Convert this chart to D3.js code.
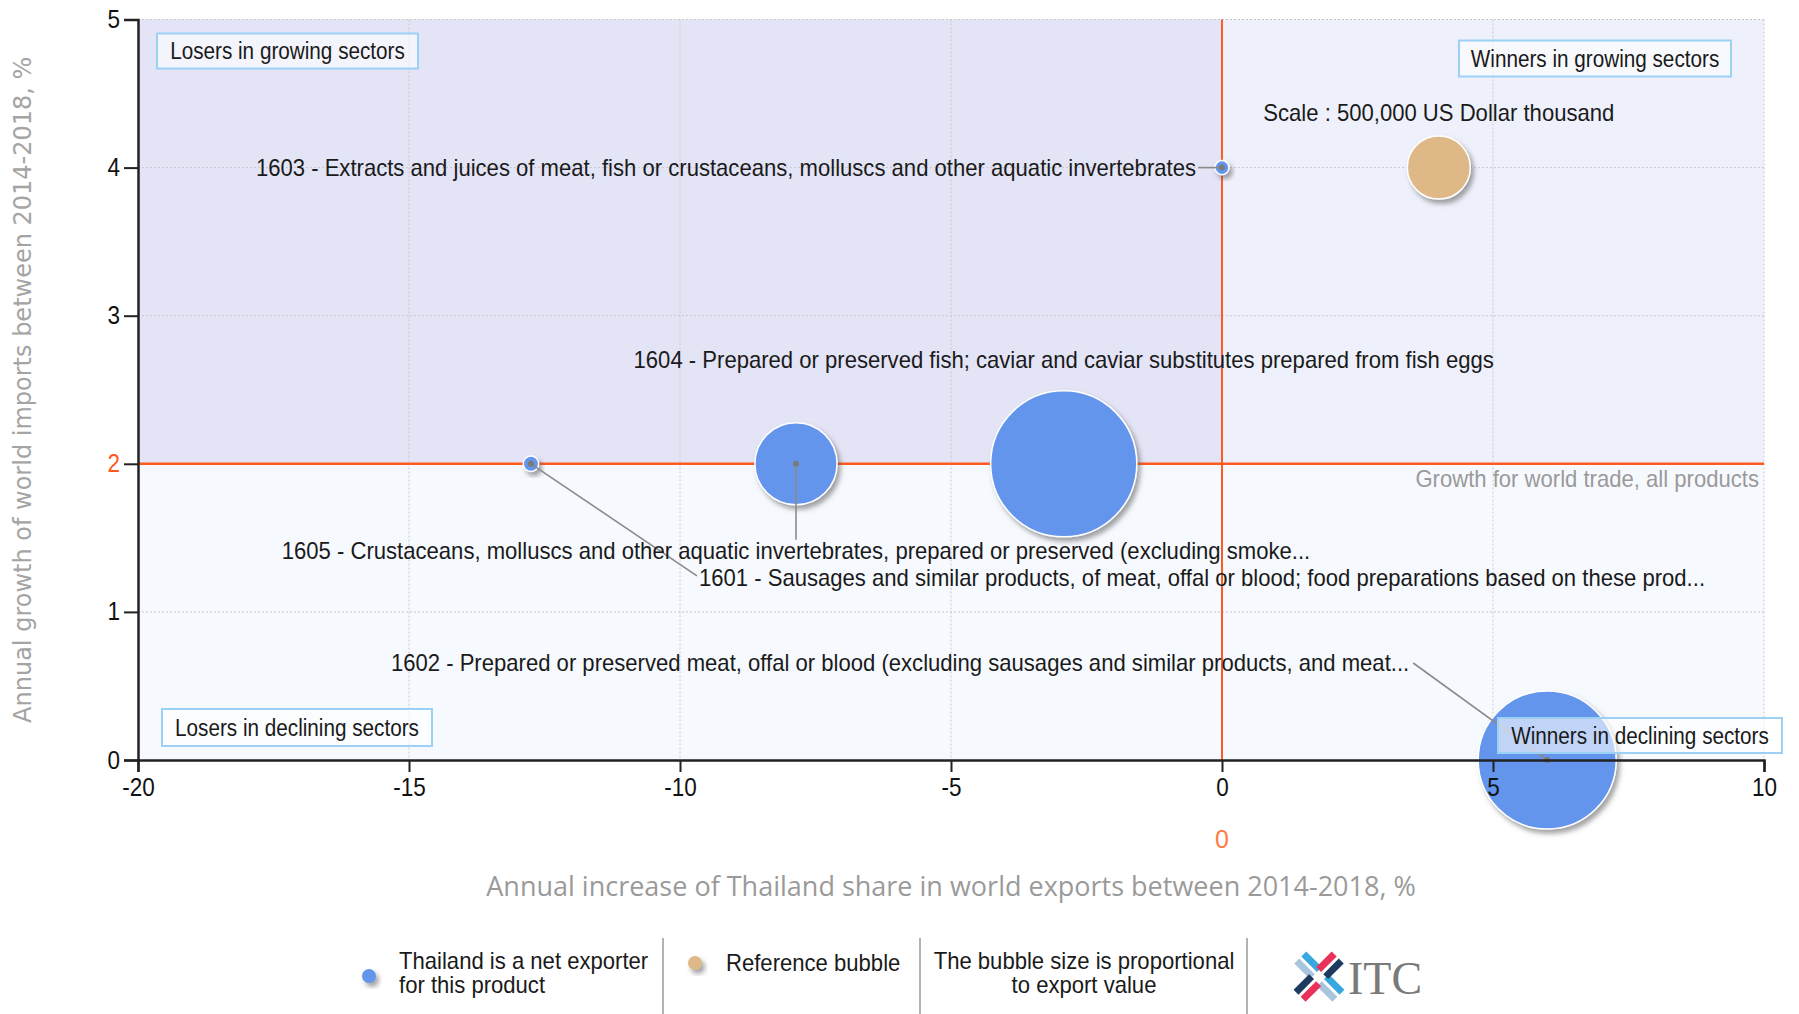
<!DOCTYPE html>
<html lang="en">
<head>
  <meta charset="UTF-8">
  <title>Thailand - bubble chart of products 1601-1605</title>
  <script src="https://d3js.org/d3.v7.min.js"></script>
  <style>
    html, body { margin: 0; padding: 0; background: #fff; }
    svg { display: block; }
    .narrow { font-family: 'Liberation Sans', Arial, sans-serif; }
  </style>
</head>
<body>
  <div id="chart"></div>
  <script>
    // products (HS 4-digit) shown as bubbles
    var codes = ["1601", "1602", "1603", "1604", "1605"];
    var names = [
      "1601 - Sausages and similar products, of meat, offal or blood; food preparations based on these prod...",
      "1602 - Prepared or preserved meat, offal or blood (excluding sausages and similar products, and meat...",
      "1603 - Extracts and juices of meat, fish or crustaceans, molluscs and other aquatic invertebrates",
      "1604 - Prepared or preserved fish; caviar and caviar substitutes prepared from fish eggs",
      "1605 - Crustaceans, molluscs and other aquatic invertebrates, prepared or preserved (excluding smoke..."
    ];
    // annual increase of Thailand share in world exports, %
    var shareGrowth = [-12.75, 6.0, 0.0, -2.92, -7.86];
    // annual growth of world imports, %
    var importGrowth = [2.0, 0.0, 4.0, 2.0, 2.0];
    // export value, US Dollar thousand
    var exportValue = [30000, 2400000, 25000, 2690000, 850000];

    var refValue = 500000;
    var refPoint = [4.0, 4.0];
    var worldGrowth = 2.0;

    var xTicks = [-20, -15, -10, -5, 0, 5, 10];
    var yTicks = [0, 1, 2, 3, 4, 5];

    // label placement relative to bubble centre (pixels)
    var labelPos = {
      "1601": { dx: 168, dy: 114, anchor: "start", lx: 166, ly: 112 },
      "1602": { dx: -138, dy: -97, anchor: "end", lx: -134, ly: -97 },
      "1603": { dx: -26, dy: 0, anchor: "end", lx: -24, ly: 0 },
      "1604": { dx: 0, dy: -104, anchor: "middle", lx: null, ly: null },
      "1605": { dx: 0, dy: 87, anchor: "middle", lx: 0, ly: 76 }
    };

    var W = 1799, H = 1014;
    var margin = { top: 19.5, right: 35, bottom: 254, left: 138 };
    var pw = W - margin.left - margin.right,
        ph = H - margin.top - margin.bottom;

    // squeeze text horizontally (the original uses a narrow face)
    function condense(sel, k) {
      sel.each(function () {
        var w = this.getComputedTextLength();
        this.setAttribute("textLength", w * k);
        this.setAttribute("lengthAdjust", "spacingAndGlyphs");
      });
    }

    var svg = d3.select("#chart").append("svg")
      .attr("width", W).attr("height", H);

    var defs = svg.append("defs");
    var f = defs.append("filter").attr("id", "shadow")
      .attr("x", "-30%").attr("y", "-30%").attr("width", "170%").attr("height", "170%");
    f.append("feDropShadow").attr("dx", 3).attr("dy", 4).attr("stdDeviation", 2.5)
      .attr("flood-color", "#555").attr("flood-opacity", 0.55);

    var x = d3.scaleLinear().domain([-20, 10]).range([margin.left, margin.left + pw]);
    var y = d3.scaleLinear().domain([0, 5]).range([margin.top + ph, margin.top]);
    var r = d3.scaleSqrt().domain([0, refValue]).range([0, 31.5]);

    var x0 = x(0), y2 = y(worldGrowth);
    var pLeft = x(-20), pRight = x(10), pTop = y(5), pBottom = y(0);

    // quadrant backgrounds
    svg.append("rect").attr("x", pLeft).attr("y", pTop).attr("width", x0 - pLeft).attr("height", y2 - pTop).attr("fill", "#E4E4F7");
    svg.append("rect").attr("x", x0).attr("y", pTop).attr("width", pRight - x0).attr("height", y2 - pTop).attr("fill", "#EEF1FB");
    svg.append("rect").attr("x", pLeft).attr("y", y2).attr("width", pRight - pLeft).attr("height", pBottom - y2).attr("fill", "#F6F9FE");

    // dotted grid
    var grid = svg.append("g").attr("stroke", "#C8C8C8").attr("stroke-dasharray", "2,2").attr("stroke-width", 1);
    grid.selectAll(".gx").data(xTicks.filter(function (d) { return d !== -20 && d !== 0; }))
      .enter().append("line")
      .attr("x1", function (d) { return x(d); }).attr("x2", function (d) { return x(d); })
      .attr("y1", pTop).attr("y2", pBottom);
    grid.selectAll(".gy").data(yTicks.filter(function (d) { return d !== 0 && d !== worldGrowth; }))
      .enter().append("line")
      .attr("x1", pLeft).attr("x2", pRight)
      .attr("y1", function (d) { return y(d); }).attr("y2", function (d) { return y(d); });

    // reference lines
    svg.append("line").attr("x1", pLeft).attr("x2", pRight).attr("y1", y2).attr("y2", y2)
      .attr("stroke", "#FF5A1F").attr("stroke-width", 2.5);
    svg.append("line").attr("x1", x0).attr("x2", x0).attr("y1", pTop).attr("y2", pBottom)
      .attr("stroke", "#FF5A1F").attr("stroke-width", 2);

    svg.append("text").attr("class", "narrow cz")
      .attr("x", pRight - 5).attr("y", y2 + 23)
      .attr("text-anchor", "end").attr("font-size", 24).attr("fill", "#9A9A9A")
      .text("Growth for world trade, all products");

    // bubbles
    var data = codes.map(function (c, i) {
      return { code: c, name: names[i], x: shareGrowth[i], y: importGrowth[i], v: exportValue[i] };
    });

    svg.append("g").selectAll("circle").data(data).enter().append("circle")
      .attr("cx", function (d) { return x(d.x); })
      .attr("cy", function (d) { return y(d.y); })
      .attr("r", function (d) { return r(d.v); })
      .attr("fill", "#6495ED")
      .attr("stroke", "#fff").attr("stroke-width", 1.5)
      .attr("filter", "url(#shadow)");

    // reference bubble
    svg.append("circle").attr("cx", x(refPoint[0])).attr("cy", y(refPoint[1])).attr("r", r(refValue))
      .attr("fill", "#DEB887").attr("stroke", "#fff").attr("stroke-width", 1.5)
      .attr("filter", "url(#shadow)");
    svg.append("text").attr("class", "narrow cz")
      .attr("x", x(refPoint[0])).attr("y", y(refPoint[1]) - 47)
      .attr("text-anchor", "middle").attr("font-size", 24).attr("fill", "#1a1a1a")
      .text("Scale : 500,000 US Dollar thousand");

    // leaders and labels
    var lab = svg.append("g");
    data.forEach(function (d) {
      var p = labelPos[d.code];
      var cx = x(d.x), cy = y(d.y);
      if (p.lx !== null) {
        lab.append("line").attr("x1", cx).attr("y1", cy)
          .attr("x2", cx + p.lx).attr("y2", cy + p.ly)
          .attr("stroke", "#8A8A8A").attr("stroke-width", 1.6);
        lab.append("circle").attr("cx", cx).attr("cy", cy).attr("r", 3).attr("fill", "#7A7A7A");
      }
      lab.append("text").attr("class", "narrow cz")
        .attr("x", cx + p.dx).attr("y", cy + p.dy)
        .attr("dy", "0.35em")
        .attr("text-anchor", p.anchor).attr("font-size", 24).attr("fill", "#1a1a1a")
        .text(d.name);
    });

    // quadrant captions
    var boxes = [
      { t: "Losers in growing sectors", x: pLeft + 19, y: pTop + 14, w: 261, h: 35 },
      { t: "Winners in growing sectors", x: pRight - 305, y: pTop + 21, w: 272, h: 36 },
      { t: "Losers in declining sectors", x: pLeft + 24, y: pBottom - 51, w: 270, h: 37 },
      { t: "Winners in declining sectors", x: pRight - 266, y: pBottom - 42, w: 284, h: 35 }
    ];
    var bx = svg.append("g").selectAll("g").data(boxes).enter().append("g");
    bx.append("rect")
      .attr("x", function (d) { return d.x; }).attr("y", function (d) { return d.y; })
      .attr("width", function (d) { return d.w; }).attr("height", function (d) { return d.h; })
      .attr("fill", "rgba(255,255,255,0.6)").attr("stroke", "#9CD0F5").attr("stroke-width", 2);
    bx.append("text").attr("class", "narrow")
      .attr("x", function (d) { return d.x + d.w / 2; })
      .attr("y", function (d) { return d.y + d.h / 2; })
      .attr("dy", "0.35em").attr("text-anchor", "middle")
      .attr("font-size", 23).attr("fill", "#1a1a1a")
      .text(function (d) { return d.t; })
      .call(condense, 0.9);

    // axes
    var fmt = function (d) { return String(d); };
    var xAxis = svg.append("g").attr("transform", "translate(0," + pBottom + ")")
      .call(d3.axisBottom(x).tickValues(xTicks).tickSize(12).tickPadding(6).tickFormat(fmt));
    var yAxis = svg.append("g").attr("transform", "translate(" + pLeft + ",0)")
      .call(d3.axisLeft(y).tickValues(yTicks).tickSize(14).tickPadding(4).tickFormat(fmt));
    [xAxis, yAxis].forEach(function (a) {
      a.select(".domain").attr("stroke", "#222").attr("stroke-width", 2.5);
      a.selectAll(".tick line").attr("stroke", "#222").attr("stroke-width", 2);
      a.selectAll(".tick text").attr("class", "narrow").attr("font-size", 25).attr("fill", "#111")
        .call(condense, 0.9);
    });
    yAxis.selectAll(".tick text").filter(function (d) { return d === worldGrowth; }).attr("fill", "#FF5A1F");

    svg.append("text").attr("class", "narrow")
      .attr("x", x0).attr("y", 848).attr("text-anchor", "middle")
      .attr("font-size", 25).attr("fill", "#FF7A45").text("0");

    // axis titles
    svg.append("text")
      .attr("x", (pLeft + pRight) / 2).attr("y", 896).attr("text-anchor", "middle")
      .attr("font-family", "'Open Sans', 'Liberation Sans', sans-serif").attr("font-size", 27).attr("fill", "#9A9A9A")
      .text("Annual increase of Thailand share in world exports between 2014-2018, %");
    svg.append("text")
      .attr("transform", "translate(31," + ((pTop + pBottom) / 2) + ") rotate(-90)")
      .attr("text-anchor", "middle")
      .attr("font-family", "'DejaVu Sans', Verdana, sans-serif").attr("font-size", 24).attr("fill", "#A4A4A4")
      .text("Annual growth of world imports between 2014-2018, %");

    // legend
    var lg = svg.append("g");
    lg.append("circle").attr("cx", 369).attr("cy", 976).attr("r", 7).attr("fill", "#6495ED").attr("filter", "url(#shadow)");
    lg.append("text").attr("class", "narrow cz").attr("x", 399).attr("y", 969).attr("font-size", 24).attr("fill", "#1a1a1a").text("Thailand is a net exporter");
    lg.append("text").attr("class", "narrow cz").attr("x", 399).attr("y", 993).attr("font-size", 24).attr("fill", "#1a1a1a").text("for this product");
    lg.append("circle").attr("cx", 695).attr("cy", 963).attr("r", 7).attr("fill", "#DEB887").attr("filter", "url(#shadow)");
    lg.append("text").attr("class", "narrow cz").attr("x", 726).attr("y", 971).attr("font-size", 24).attr("fill", "#1a1a1a").text("Reference bubble");
    lg.append("text").attr("class", "narrow cz").attr("x", 1084).attr("y", 969).attr("text-anchor", "middle").attr("font-size", 24).attr("fill", "#1a1a1a").text("The bubble size is proportional");
    lg.append("text").attr("class", "narrow cz").attr("x", 1084).attr("y", 993).attr("text-anchor", "middle").attr("font-size", 24).attr("fill", "#1a1a1a").text("to export value");
    [663, 920, 1247].forEach(function (sx) {
      lg.append("line").attr("x1", sx).attr("x2", sx).attr("y1", 938).attr("y2", 1014)
        .attr("stroke", "#9A9A9A").attr("stroke-width", 1.5);
    });

    svg.selectAll("text.cz").call(condense, 0.92);

    // ITC logo
    var logo = svg.append("g").attr("transform", "translate(1319,977) rotate(45)");
    var stripes = [
      [-27, -9, "#3AA8E0"], [-27, 1, "#A9C4DD"], [5, -9, "#3AA8E0"], [5, 1, "#A9C4DD"]
    ];
    stripes.forEach(function (s) {
      logo.append("rect").attr("x", s[0]).attr("y", s[1]).attr("width", 22).attr("height", 7).attr("fill", s[2]);
    });
    var stripes2 = [
      [-9, -27, "#E8325A"], [1, -27, "#1F3A5F"], [-9, 5, "#1F3A5F"], [1, 5, "#E8325A"]
    ];
    stripes2.forEach(function (s) {
      logo.append("rect").attr("x", s[0]).attr("y", s[1]).attr("width", 7).attr("height", 22).attr("fill", s[2]);
    });
    svg.append("text").attr("x", 1348).attr("y", 994)
      .attr("font-family", "'Liberation Serif', 'DejaVu Serif', serif").attr("font-size", 46).attr("fill", "#7A7A7A")
      .text("ITC");
  </script>
</body>
</html>
